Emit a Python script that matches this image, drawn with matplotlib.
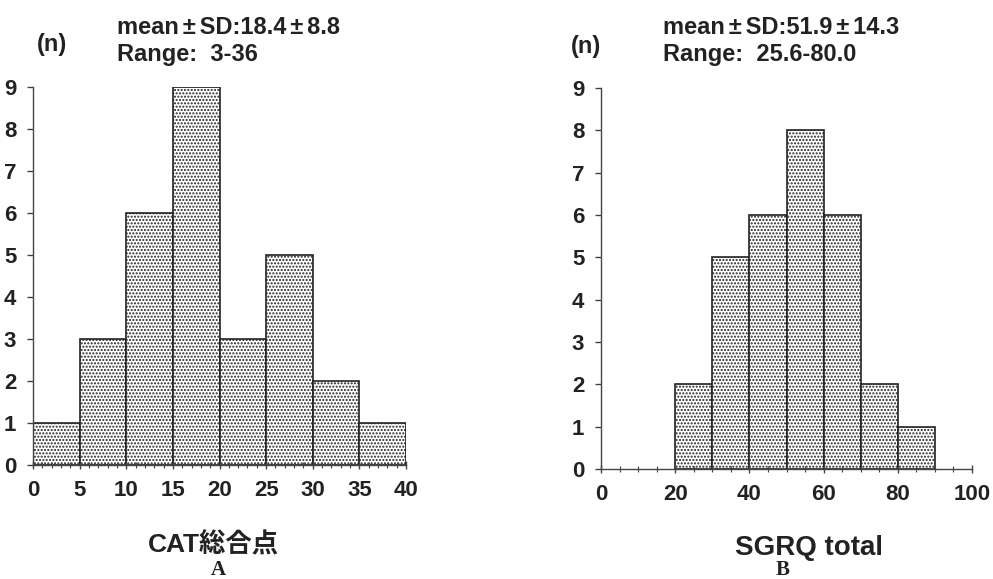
import matplotlib
matplotlib.use("Agg")
import matplotlib.pyplot as plt
from matplotlib.ticker import MultipleLocator

plt.rcParams['hatch.linewidth'] = 1.0
plt.rcParams['font.family'] = ['Liberation Sans', 'DejaVu Sans', 'Noto Sans CJK JP']

PM = "\u2006\u00b1\u2006"

# Panel A: CAT total score
cat_edges = [0, 5, 10, 15, 20, 25, 30, 35]
cat_counts = [1, 3, 6, 9, 3, 5, 2, 1]
cat_width = 5
cat_xticks = [0, 5, 10, 15, 20, 25, 30, 35, 40]
cat_stats = ["mean" + PM + "SD:18.4" + PM + "8.8", "Range:  3-36"]
cat_xlabel = "CAT総合点"

# Panel B: SGRQ total
sgrq_edges = [20, 30, 40, 50, 60, 70, 80]
sgrq_counts = [2, 5, 6, 8, 6, 2, 1]
sgrq_width = 10
sgrq_xticks = [0, 20, 40, 60, 80, 100]
sgrq_stats = ["mean" + PM + "SD:51.9" + PM + "14.3", "Range:  25.6-80.0"]
sgrq_xlabel = "SGRQ total"

yticks = list(range(0, 10))

fig = plt.figure(figsize=(9.93, 5.79), dpi=100)
axA = fig.add_axes([0.0332, 0.197, 0.3757, 0.653])
axB = fig.add_axes([0.6052, 0.190, 0.3737, 0.658])

TICK_FS = 16

def style(ax, edges, counts, width, xticks, minor, xmax):
    ax.bar(edges, counts, width=width, align='edge', facecolor='white',
           edgecolor='#222222', linewidth=1.2, hatch='.....')
    ax.set_xlim(0, xmax)
    ax.set_ylim(0, 9)
    ax.set_xticks(xticks)
    ax.set_yticks(yticks)
    ax.xaxis.set_minor_locator(MultipleLocator(minor))
    for s in ['top', 'right']:
        ax.spines[s].set_visible(False)
    for s in ['left', 'bottom']:
        ax.spines[s].set_color('#444444')
        ax.spines[s].set_linewidth(1.0)
    ax.tick_params(axis='both', which='major', labelsize=TICK_FS, length=4,
                   color='#444444', width=1.0)
    ax.tick_params(axis='x', which='major', direction='inout', length=6, pad=8)
    ax.tick_params(axis='x', which='minor', direction='inout', length=4,
                   color='#444444', width=0.8)
    ax.tick_params(axis='y', which='major', pad=8)
    for lab in ax.get_xticklabels() + ax.get_yticklabels():
        lab.set_fontweight('bold')
        lab.set_color('#222222')

style(axA, cat_edges, cat_counts, cat_width, cat_xticks, 1, 40)
style(axB, sgrq_edges, sgrq_counts, sgrq_width, sgrq_xticks, 5, 100)

tc = '#222222'
STAT_FS = 17
# Panel A annotations
fig.text(37 / 993, 1 - 44 / 579, "(n)", fontsize=17, fontweight='bold', color=tc, va='center')
fig.text(117 / 993, 1 - 27 / 579, cat_stats[0], fontsize=STAT_FS, fontweight='bold', color=tc, va='center')
fig.text(117 / 993, 1 - 55 / 579, cat_stats[1], fontsize=STAT_FS, fontweight='bold', color=tc, va='center')
fig.text(213 / 993, 1 - 545 / 579, cat_xlabel, fontsize=19, fontweight='bold', color=tc,
         ha='center', va='center', family=['Liberation Sans', 'Noto Sans CJK JP'])
fig.text(218 / 993, 1 - 570 / 579, "A", fontsize=15, fontweight='bold', color=tc,
         ha='center', va='center', family='Liberation Serif')

# Panel B annotations
fig.text(571 / 993, 1 - 46 / 579, "(n)", fontsize=17, fontweight='bold', color=tc, va='center')
fig.text(663 / 993, 1 - 27 / 579, sgrq_stats[0], fontsize=STAT_FS, fontweight='bold', color=tc, va='center')
fig.text(663 / 993, 1 - 55 / 579, sgrq_stats[1], fontsize=STAT_FS, fontweight='bold', color=tc, va='center')
fig.text(809 / 993, 1 - 548 / 579, sgrq_xlabel, fontsize=20, fontweight='bold', color=tc,
         ha='center', va='center')
fig.text(783 / 993, 1 - 570 / 579, "B", fontsize=15, fontweight='bold', color=tc,
         ha='center', va='center', family='Liberation Serif')

fig.savefig("out.png", dpi=100)
